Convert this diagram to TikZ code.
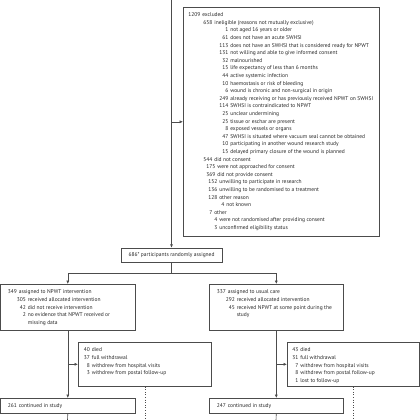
\documentclass[tikz,border=0pt]{standalone}
\usepackage{fontspec}
\setmainfont{PT Sans}
\usetikzlibrary{arrows.meta}
% one line of a box: number right-aligned at #1, then its text
\newcommand\fline[3]{\hbox to \hsize{\makebox[#1pt][r]{#2}\hspace{2pt}#3\hfil}}
% the lines of a box, #1 wide
\newcommand\boxlines[2]{\vtop{\hsize=#1pt #2}}

\begin{document}
\begin{tikzpicture}[x=1pt,y=1pt,yscale=-1,xscale=1,
  line width=0.6pt, draw=black!70,
  every node/.style={font=\fontsize{5.5}{7.6}\selectfont, text=black!85},
  box/.style={draw=black!70, anchor=north west, inner xsep=4pt, inner ysep=0pt, text height=9.5pt},
  arr/.style={-{Latex[length=3.4pt,width=3pt]}}]
\useasboundingbox (0,0) rectangle (420,420);

%Shape: Rectangle [excluded]
\node [box, text depth=219.5pt] (excl) at (183,7) {\boxlines{188}{%
\fline{13}{1209}{excluded}
\fline{25}{658}{ineligible (reasons not mutually exclusive)}
\fline{41}{1}{not aged 16 years or older}
\fline{41}{61}{does not have an acute SWHSI}
\fline{41}{113}{does not have an SWHSI that is considered ready for NPWT}
\fline{41}{131}{not willing and able to give informed consent}
\fline{41}{32}{malnourished}
\fline{41}{15}{life expectancy of less than 6 months}
\fline{41}{44}{active systemic infection}
\fline{41}{10}{haemostasis or risk of bleeding}
\fline{41}{6}{wound is chronic and non-surgical in origin}
\fline{41}{249}{already receiving or has previously received NPWT on SWHSI}
\fline{41}{114}{SWHSI is contraindicated to NPWT}
\fline{41}{25}{unclear undermining}
\fline{41}{25}{tissue or eschar are present}
\fline{41}{8}{exposed vessels or organs}
\fline{41}{47}{SWHSI is situated where vacuum seal cannot be obtained}
\fline{41}{10}{participating in another wound research study}
\fline{41}{15}{delayed primary closure of the wound is planned}
\fline{25}{544}{did not consent}
\fline{28}{175}{were not approached for consent}
\fline{28}{369}{did not provide consent}
\fline{30}{152}{unwilling to participate in research}
\fline{30}{136}{unwilling to be randomised to a treatment}
\fline{30}{128}{other reason}
\fline{37}{4}{not known}
\fline{25}{7}{other}
\fline{30}{4}{were not randomised after providing consent}
\fline{30}{3}{unconfirmed eligibility status}}};
%Shape: Rectangle [randomised]
\node [draw=black!70, minimum width=101pt, minimum height=14pt, inner sep=0pt] (rand) at (171.5,255) {686* participants randomly assigned};
%Shape: Rectangle [NPWT]
\node [box, text depth=36.5pt] (npwt) at (0,284) {\boxlines{127}{%
\fline{12.5}{349}{assigned to NPWT intervention}
\fline{21.5}{305}{received allocated intervention}
\fline{21.5}{42}{did not receive intervention}
\fline{21.5}{2}{no evidence that NPWT received or}
\fline{21.5}{}{missing data}}};
%Shape: Rectangle [usual care]
\node [box, text depth=36.5pt] (usual) at (209,284) {\boxlines{126}{%
\fline{12.5}{337}{assigned to usual care}
\fline{21.5}{292}{received allocated intervention}
\fline{21.5}{45}{received NPWT at some point during the}
\fline{21.5}{}{study}}};
%Shape: Rectangle [withdrawals]
\node [box, text depth=34.5pt] (w1) at (78,342) {\boxlines{125}{%
\fline{7.5}{40}{died}
\fline{7.5}{37}{full withdrawal}
\fline{7.5}{8}{withdrew from hospital visits}
\fline{7.5}{3}{withdrew from postal follow-up}}};
\node [box, text depth=34.5pt] (w2) at (287,342) {\boxlines{124}{%
\fline{7}{43}{died}
\fline{7}{31}{full withdrawal}
\fline{7}{7}{withdrew from hospital visits}
\fline{7}{8}{withdrew from postal follow-up}
\fline{7}{1}{lost to follow-up}}};
%Shape: Rectangle [continued]
\node [box, text depth=5.5pt] (cont1) at (0,398) {\boxlines{127}{\fline{12.5}{261}{continued in study}}};
\node [box, text depth=5.5pt] (cont2) at (209,398) {\boxlines{126}{\fline{12.5}{247}{continued in study}}};

\coordinate (top) at (171.5,0);
\coordinate (split) at (171.5,273);
\coordinate (end1) at (67.5,420);
\coordinate (end2) at (276,420);

%Straight Lines
\draw [arr] (top) -- (rand.north);
\draw [arr] (excl.west -| top) -- (excl.west);
\draw (rand.south) -- (split);
\draw [arr] (split) -| (npwt.north);
\draw [arr] (split) -| (usual.north);
\draw [arr] (npwt.south) -- (cont1.north);
\draw [arr] (usual.south) -- (cont2.north);
\draw [arr] (w1.west -| npwt.south) -- (w1.west);
\draw [arr] (w2.west -| usual.south) -- (w2.west);
\draw (cont1.south) -- (end1);
\draw (cont2.south) -- (end2);
%Dotted Lines
\draw [dotted] (w1.south) -- (w1.south |- end1);
\draw [dotted] (w2.south) -- (w2.south |- end2);

\end{tikzpicture}
\end{document}
